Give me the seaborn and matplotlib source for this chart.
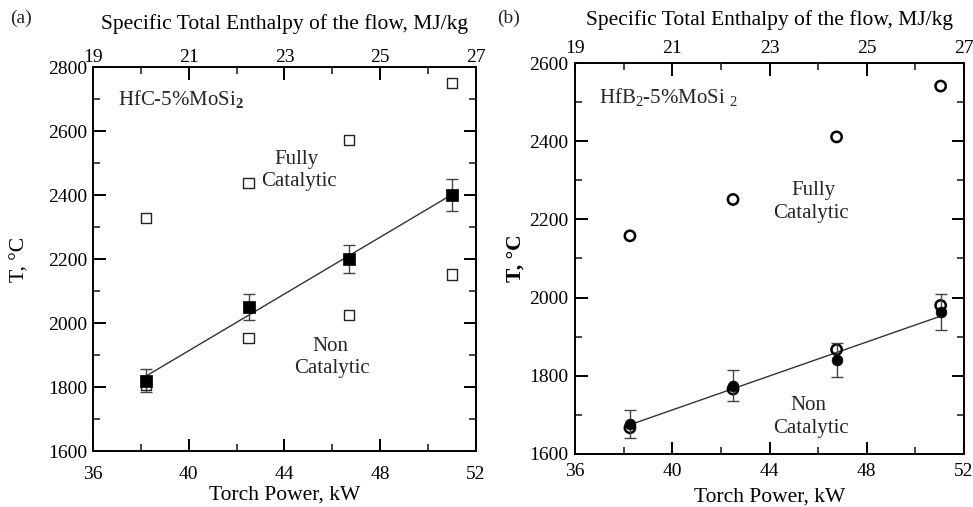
import numpy as np
import pandas as pd
import matplotlib
matplotlib.use("Agg")
import matplotlib.pyplot as plt
from matplotlib.ticker import MultipleLocator
import seaborn as sns

# ---- data (a) HfC-5%MoSi2 ----
power_a = [38.2, 42.5, 46.7, 51.0]
temp_meas_a = [1820, 2050, 2200, 2400]
err_a = [35, 40, 45, 50]
temp_fc_a = [2328, 2438, 2572, 2750]
temp_nc_a = [1807, 1953, 2026, 2152]

# ---- data (b) HfB2-5%MoSi2 ----
power_b = [38.26, 42.5, 46.76, 51.04]
temp_meas_b = [1676, 1775, 1840, 1963]
err_b = [36, 40, 43, 47]
temp_fc_b = [2158, 2251, 2411, 2541]
temp_nc_b = [1667, 1766, 1867, 1980]

xticks_bottom = [36, 40, 44, 48, 52]
xticks_top = [19, 21, 23, 25, 27]

sns.set_theme(style="ticks")
plt.rcParams["font.family"] = ["Liberation Serif", "DejaVu Serif"]
plt.rcParams["mathtext.fontset"] = "custom"
plt.rcParams["mathtext.rm"] = "Liberation Serif"
plt.rcParams["mathtext.it"] = "Liberation Serif:italic"
plt.rcParams["mathtext.bf"] = "Liberation Serif:bold"

W, H = 973, 507
fig = plt.figure(figsize=(W / 100, H / 100), dpi=100)
fig.patch.set_facecolor("white")

ax_a = fig.add_axes([93 / W, (H - 451) / H, 383 / W, 384 / H])
ax_b = fig.add_axes([575 / W, (H - 454) / H, 389 / W, 391 / H])


def style_axes(ax, ylim, ymajor, bottom_pad, top_pad, left_pad):
    ax.set_facecolor("white")
    ax.set_xlim(36, 52)
    ax.set_ylim(*ylim)
    ax.set_xticks(xticks_bottom)
    ax.xaxis.set_minor_locator(MultipleLocator(2))
    ax.yaxis.set_major_locator(MultipleLocator(ymajor))
    ax.yaxis.set_minor_locator(MultipleLocator(100))
    for s in ax.spines.values():
        s.set_linewidth(1.4)
        s.set_color("black")
        s.set_visible(True)
    ax.tick_params(axis="both", which="major", direction="in", length=9, width=1.4,
                   colors="black", labelsize=14, right=True, top=False)
    ax.tick_params(axis="both", which="minor", direction="in", length=5, width=1.2,
                   right=True, top=False)
    ax.tick_params(axis="x", which="major", pad=bottom_pad)
    ax.tick_params(axis="y", which="major", pad=left_pad)
    ax.grid(False)
    top = ax.twiny()
    top.set_xlim(19, 27)
    top.set_xticks(xticks_top)
    top.xaxis.set_minor_locator(MultipleLocator(1))
    top.tick_params(axis="x", which="major", direction="in", length=9, width=1.4,
                    labelsize=14, pad=top_pad, colors="black")
    top.tick_params(axis="x", which="minor", direction="in", length=5, width=1.2)
    for s in top.spines.values():
        s.set_visible(False)
    top.set_xlabel("Specific Total Enthalpy of the flow, MJ/kg", fontsize=15.5,
                   color="black")
    return top


# ---------- panel (a) ----------
top_a = style_axes(ax_a, (1600, 2800), 200, 11, 0.5, 4)
sns.regplot(x=power_a, y=temp_meas_a, ax=ax_a, scatter=False, ci=None,
            truncate=True, line_kws=dict(color="#333333", lw=1.0, zorder=2))
sns.scatterplot(x=power_a, y=temp_fc_a, ax=ax_a, marker="s", s=55,
                facecolor="none", edgecolor="#222222", linewidth=1.0, zorder=3)
sns.scatterplot(x=power_a, y=temp_nc_a, ax=ax_a, marker="s", s=55,
                facecolor="none", edgecolor="#222222", linewidth=1.0, zorder=3)
ax_a.errorbar(power_a, temp_meas_a, yerr=err_a, fmt="none", ecolor="#444444",
              elinewidth=1.0, capsize=4.5, capthick=1.0, zorder=4)
sns.scatterplot(x=power_a, y=temp_meas_a, ax=ax_a, marker="s", s=70,
                color="black", edgecolor="black", linewidth=0.5, zorder=5)
ax_a.set_xlabel("Torch Power, kW", fontsize=15.5, color="black")
ax_a.set_ylabel("T, \u00b0C", fontsize=15.5, color="black")
ax_a.xaxis.set_label_coords(0.5, -0.091)
ax_a.yaxis.set_label_coords(-0.165, 0.5)
top_a.xaxis.set_label_coords(0.5, 1.10)
ax_a.text(37.05, 2700, r"HfC-5%MoSi$_\mathbf{2}$", fontsize=15, va="center", ha="left")
ax_a.text(44.5, 2512, "Fully", fontsize=15, va="center", ha="center")
ax_a.text(44.6, 2443, "Catalytic", fontsize=15, va="center", ha="center")
ax_a.text(45.9, 1927, "Non", fontsize=15, va="center", ha="center")
ax_a.text(46.0, 1859, "Catalytic", fontsize=15, va="center", ha="center")
fig.text(10 / W, 1 - 18 / H, "(a)", fontsize=14, va="center", ha="left")

# ---------- panel (b) ----------
top_b = style_axes(ax_b, (1600, 2600), 200, 6.5, 4, 5)
sns.regplot(x=power_b, y=temp_meas_b, ax=ax_b, scatter=False, ci=None,
            truncate=True, line_kws=dict(color="#333333", lw=1.0, zorder=2))
sns.scatterplot(x=power_b, y=temp_fc_b, ax=ax_b, marker="o", s=55,
                facecolor="none", edgecolor="black", linewidth=1.8, zorder=3)
sns.scatterplot(x=power_b, y=temp_nc_b, ax=ax_b, marker="o", s=55,
                facecolor="none", edgecolor="black", linewidth=1.8, zorder=3)
ax_b.errorbar(power_b, temp_meas_b, yerr=err_b, fmt="none", ecolor="#444444",
              elinewidth=1.0, capsize=4.5, capthick=1.0, zorder=4)
sns.scatterplot(x=power_b, y=temp_meas_b, ax=ax_b, marker="o", s=60,
                color="black", edgecolor="black", linewidth=0.5, zorder=5)
ax_b.set_xlabel("Torch Power, kW", fontsize=15.5, color="black")
ax_b.set_ylabel("T, \u00b0C", fontsize=15.5, color="black", fontweight="bold")
ax_b.xaxis.set_label_coords(0.5, -0.087)
ax_b.yaxis.set_label_coords(-0.128, 0.5)
top_b.xaxis.set_label_coords(0.5, 1.097)
ax_b.text(37.0, 2514, r"HfB$_2$-5%MoSi $_2$", fontsize=15, va="center", ha="left")
ax_b.text(45.8, 2275, "Fully", fontsize=15, va="center", ha="center")
ax_b.text(45.7, 2215, "Catalytic", fontsize=15, va="center", ha="center")
ax_b.text(45.6, 1725, "Non", fontsize=15, va="center", ha="center")
ax_b.text(45.7, 1666, "Catalytic", fontsize=15, va="center", ha="center")
fig.text(497 / W, 1 - 18 / H, "(b)", fontsize=14, va="center", ha="left")

fig.savefig("out.png", dpi=100, facecolor="white")
